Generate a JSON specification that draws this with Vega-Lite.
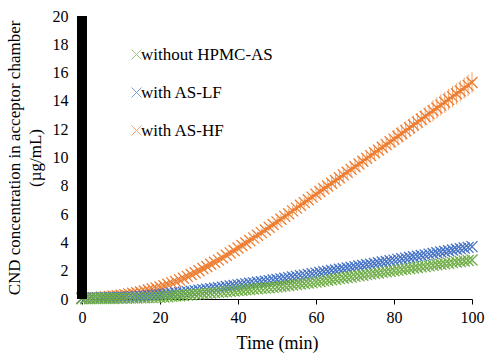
{
  "$schema": "https://vega.github.io/schema/vega-lite/v6.json",
  "width": 390,
  "height": 283,
  "autosize": "none",
  "padding": {"left": 82, "top": 16, "right": 17, "bottom": 55},
  "background": "white",
  "config": {
    "view": {"stroke": null},
    "font": "Liberation Serif",
    "axis": {"grid": false, "labelFont": "Liberation Serif", "titleFont": "Liberation Serif", "labelColor": "black", "titleColor": "black", "titleFontWeight": "normal"},
    "legend": {"labelFont": "Liberation Serif", "labelFontSize": 17, "labelColor": "black"}
  },
  "data": {"values": [
    {"t":0,"o":0.05,"oe":0.03,"b":0.06,"be":0.02,"g":0.02,"ge":0.01},
    {"t":1,"o":0.06,"oe":0.03,"b":0.07,"be":0.02,"g":0.02,"ge":0.01},
    {"t":2,"o":0.07,"oe":0.03,"b":0.07,"be":0.02,"g":0.02,"ge":0.01},
    {"t":3,"o":0.09,"oe":0.03,"b":0.08,"be":0.02,"g":0.03,"ge":0.01},
    {"t":4,"o":0.10,"oe":0.03,"b":0.08,"be":0.02,"g":0.03,"ge":0.01},
    {"t":5,"o":0.12,"oe":0.03,"b":0.09,"be":0.02,"g":0.03,"ge":0.01},
    {"t":6,"o":0.15,"oe":0.03,"b":0.09,"be":0.02,"g":0.03,"ge":0.01},
    {"t":7,"o":0.18,"oe":0.03,"b":0.10,"be":0.02,"g":0.04,"ge":0.01},
    {"t":8,"o":0.21,"oe":0.03,"b":0.10,"be":0.02,"g":0.04,"ge":0.01},
    {"t":9,"o":0.24,"oe":0.03,"b":0.11,"be":0.02,"g":0.05,"ge":0.01},
    {"t":10,"o":0.27,"oe":0.09,"b":0.12,"be":0.03,"g":0.05,"ge":0.02},
    {"t":11,"o":0.31,"oe":0.09,"b":0.13,"be":0.03,"g":0.06,"ge":0.02},
    {"t":12,"o":0.36,"oe":0.09,"b":0.15,"be":0.03,"g":0.06,"ge":0.02},
    {"t":13,"o":0.41,"oe":0.09,"b":0.16,"be":0.03,"g":0.07,"ge":0.02},
    {"t":14,"o":0.45,"oe":0.09,"b":0.18,"be":0.03,"g":0.07,"ge":0.02},
    {"t":15,"o":0.50,"oe":0.09,"b":0.20,"be":0.03,"g":0.08,"ge":0.02},
    {"t":16,"o":0.57,"oe":0.09,"b":0.22,"be":0.03,"g":0.09,"ge":0.02},
    {"t":17,"o":0.64,"oe":0.09,"b":0.24,"be":0.03,"g":0.10,"ge":0.02},
    {"t":18,"o":0.71,"oe":0.09,"b":0.26,"be":0.03,"g":0.10,"ge":0.02},
    {"t":19,"o":0.78,"oe":0.09,"b":0.28,"be":0.03,"g":0.11,"ge":0.02},
    {"t":20,"o":0.85,"oe":0.13,"b":0.30,"be":0.05,"g":0.12,"ge":0.04},
    {"t":21,"o":0.94,"oe":0.13,"b":0.33,"be":0.05,"g":0.14,"ge":0.04},
    {"t":22,"o":1.04,"oe":0.13,"b":0.36,"be":0.05,"g":0.16,"ge":0.04},
    {"t":23,"o":1.14,"oe":0.13,"b":0.39,"be":0.05,"g":0.19,"ge":0.04},
    {"t":24,"o":1.24,"oe":0.13,"b":0.42,"be":0.05,"g":0.21,"ge":0.04},
    {"t":25,"o":1.35,"oe":0.13,"b":0.45,"be":0.05,"g":0.23,"ge":0.04},
    {"t":26,"o":1.47,"oe":0.13,"b":0.48,"be":0.05,"g":0.25,"ge":0.04},
    {"t":27,"o":1.60,"oe":0.13,"b":0.52,"be":0.05,"g":0.28,"ge":0.04},
    {"t":28,"o":1.73,"oe":0.13,"b":0.55,"be":0.05,"g":0.30,"ge":0.04},
    {"t":29,"o":1.86,"oe":0.13,"b":0.59,"be":0.05,"g":0.33,"ge":0.04},
    {"t":30,"o":2.00,"oe":0.2,"b":0.62,"be":0.05,"g":0.35,"ge":0.05},
    {"t":31,"o":2.15,"oe":0.2,"b":0.66,"be":0.05,"g":0.37,"ge":0.05},
    {"t":32,"o":2.30,"oe":0.2,"b":0.69,"be":0.05,"g":0.40,"ge":0.05},
    {"t":33,"o":2.45,"oe":0.2,"b":0.73,"be":0.05,"g":0.42,"ge":0.05},
    {"t":34,"o":2.60,"oe":0.2,"b":0.76,"be":0.05,"g":0.45,"ge":0.05},
    {"t":35,"o":2.75,"oe":0.2,"b":0.80,"be":0.05,"g":0.47,"ge":0.05},
    {"t":36,"o":2.92,"oe":0.2,"b":0.84,"be":0.05,"g":0.50,"ge":0.05},
    {"t":37,"o":3.09,"oe":0.2,"b":0.88,"be":0.05,"g":0.52,"ge":0.05},
    {"t":38,"o":3.26,"oe":0.2,"b":0.92,"be":0.05,"g":0.55,"ge":0.05},
    {"t":39,"o":3.43,"oe":0.2,"b":0.96,"be":0.05,"g":0.57,"ge":0.05},
    {"t":40,"o":3.60,"oe":0.27,"b":1.00,"be":0.07,"g":0.60,"ge":0.08},
    {"t":41,"o":3.78,"oe":0.27,"b":1.04,"be":0.07,"g":0.62,"ge":0.08},
    {"t":42,"o":3.96,"oe":0.27,"b":1.07,"be":0.07,"g":0.65,"ge":0.08},
    {"t":43,"o":4.14,"oe":0.27,"b":1.11,"be":0.07,"g":0.67,"ge":0.08},
    {"t":44,"o":4.32,"oe":0.27,"b":1.14,"be":0.07,"g":0.70,"ge":0.08},
    {"t":45,"o":4.50,"oe":0.27,"b":1.18,"be":0.07,"g":0.72,"ge":0.08},
    {"t":46,"o":4.69,"oe":0.27,"b":1.22,"be":0.07,"g":0.75,"ge":0.08},
    {"t":47,"o":4.88,"oe":0.27,"b":1.26,"be":0.07,"g":0.77,"ge":0.08},
    {"t":48,"o":5.07,"oe":0.27,"b":1.30,"be":0.07,"g":0.80,"ge":0.08},
    {"t":49,"o":5.26,"oe":0.27,"b":1.34,"be":0.07,"g":0.82,"ge":0.08},
    {"t":50,"o":5.45,"oe":0.35,"b":1.38,"be":0.08,"g":0.85,"ge":0.1},
    {"t":51,"o":5.64,"oe":0.35,"b":1.42,"be":0.08,"g":0.88,"ge":0.1},
    {"t":52,"o":5.84,"oe":0.35,"b":1.47,"be":0.08,"g":0.92,"ge":0.1},
    {"t":53,"o":6.03,"oe":0.35,"b":1.51,"be":0.08,"g":0.95,"ge":0.1},
    {"t":54,"o":6.23,"oe":0.35,"b":1.56,"be":0.08,"g":0.99,"ge":0.1},
    {"t":55,"o":6.42,"oe":0.35,"b":1.60,"be":0.08,"g":1.02,"ge":0.1},
    {"t":56,"o":6.62,"oe":0.35,"b":1.65,"be":0.08,"g":1.06,"ge":0.1},
    {"t":57,"o":6.81,"oe":0.35,"b":1.69,"be":0.08,"g":1.09,"ge":0.1},
    {"t":58,"o":7.01,"oe":0.35,"b":1.74,"be":0.08,"g":1.13,"ge":0.1},
    {"t":59,"o":7.20,"oe":0.35,"b":1.78,"be":0.08,"g":1.16,"ge":0.1},
    {"t":60,"o":7.40,"oe":0.44,"b":1.83,"be":0.1,"g":1.20,"ge":0.13},
    {"t":61,"o":7.60,"oe":0.44,"b":1.87,"be":0.1,"g":1.24,"ge":0.13},
    {"t":62,"o":7.79,"oe":0.44,"b":1.92,"be":0.1,"g":1.28,"ge":0.13},
    {"t":63,"o":7.99,"oe":0.44,"b":1.96,"be":0.1,"g":1.32,"ge":0.13},
    {"t":64,"o":8.18,"oe":0.44,"b":2.01,"be":0.1,"g":1.36,"ge":0.13},
    {"t":65,"o":8.38,"oe":0.44,"b":2.05,"be":0.1,"g":1.40,"ge":0.13},
    {"t":66,"o":8.57,"oe":0.44,"b":2.10,"be":0.1,"g":1.44,"ge":0.13},
    {"t":67,"o":8.77,"oe":0.44,"b":2.14,"be":0.1,"g":1.48,"ge":0.13},
    {"t":68,"o":8.96,"oe":0.44,"b":2.19,"be":0.1,"g":1.52,"ge":0.13},
    {"t":69,"o":9.16,"oe":0.44,"b":2.23,"be":0.1,"g":1.56,"ge":0.13},
    {"t":70,"o":9.35,"oe":0.54,"b":2.28,"be":0.1,"g":1.60,"ge":0.16},
    {"t":71,"o":9.55,"oe":0.54,"b":2.33,"be":0.1,"g":1.64,"ge":0.16},
    {"t":72,"o":9.74,"oe":0.54,"b":2.37,"be":0.1,"g":1.68,"ge":0.16},
    {"t":73,"o":9.94,"oe":0.54,"b":2.42,"be":0.1,"g":1.72,"ge":0.16},
    {"t":74,"o":10.13,"oe":0.54,"b":2.46,"be":0.1,"g":1.76,"ge":0.16},
    {"t":75,"o":10.33,"oe":0.54,"b":2.51,"be":0.1,"g":1.80,"ge":0.16},
    {"t":76,"o":10.52,"oe":0.54,"b":2.56,"be":0.1,"g":1.84,"ge":0.16},
    {"t":77,"o":10.72,"oe":0.54,"b":2.61,"be":0.1,"g":1.88,"ge":0.16},
    {"t":78,"o":10.91,"oe":0.54,"b":2.65,"be":0.1,"g":1.92,"ge":0.16},
    {"t":79,"o":11.11,"oe":0.54,"b":2.70,"be":0.1,"g":1.96,"ge":0.16},
    {"t":80,"o":11.30,"oe":0.65,"b":2.75,"be":0.12,"g":2.00,"ge":0.2},
    {"t":81,"o":11.50,"oe":0.65,"b":2.80,"be":0.12,"g":2.04,"ge":0.2},
    {"t":82,"o":11.70,"oe":0.65,"b":2.84,"be":0.12,"g":2.08,"ge":0.2},
    {"t":83,"o":11.90,"oe":0.65,"b":2.89,"be":0.12,"g":2.11,"ge":0.2},
    {"t":84,"o":12.10,"oe":0.65,"b":2.93,"be":0.12,"g":2.15,"ge":0.2},
    {"t":85,"o":12.30,"oe":0.65,"b":2.98,"be":0.12,"g":2.19,"ge":0.2},
    {"t":86,"o":12.50,"oe":0.65,"b":3.03,"be":0.12,"g":2.23,"ge":0.2},
    {"t":87,"o":12.70,"oe":0.65,"b":3.08,"be":0.12,"g":2.27,"ge":0.2},
    {"t":88,"o":12.90,"oe":0.65,"b":3.12,"be":0.12,"g":2.30,"ge":0.2},
    {"t":89,"o":13.10,"oe":0.65,"b":3.17,"be":0.12,"g":2.34,"ge":0.2},
    {"t":90,"o":13.30,"oe":0.75,"b":3.22,"be":0.13,"g":2.38,"ge":0.22},
    {"t":91,"o":13.50,"oe":0.75,"b":3.27,"be":0.13,"g":2.42,"ge":0.22},
    {"t":92,"o":13.70,"oe":0.75,"b":3.32,"be":0.13,"g":2.46,"ge":0.22},
    {"t":93,"o":13.90,"oe":0.75,"b":3.36,"be":0.13,"g":2.49,"ge":0.22},
    {"t":94,"o":14.10,"oe":0.75,"b":3.41,"be":0.13,"g":2.53,"ge":0.22},
    {"t":95,"o":14.30,"oe":0.75,"b":3.46,"be":0.13,"g":2.57,"ge":0.22},
    {"t":96,"o":14.50,"oe":0.75,"b":3.51,"be":0.13,"g":2.61,"ge":0.22},
    {"t":97,"o":14.70,"oe":0.75,"b":3.56,"be":0.13,"g":2.65,"ge":0.22},
    {"t":98,"o":14.90,"oe":0.75,"b":3.60,"be":0.13,"g":2.68,"ge":0.22},
    {"t":99,"o":15.10,"oe":0.75,"b":3.65,"be":0.13,"g":2.72,"ge":0.22},
    {"t":100,"o":15.30,"oe":0.75,"b":3.70,"be":0.13,"g":2.76,"ge":0.22}
  ]},
  "encoding": {
    "x": {"field": "t", "type": "quantitative", "title": "Time (min)", "scale": {"domain": [0, 100], "nice": false},
      "axis": {"grid": false, "values": [0, 20, 40, 60, 80, 100], "domainColor": "black", "tickColor": "black", "tickSize": 5, "labelPadding": 5, "labelFont": "Liberation Serif", "labelFontSize": 16, "labelColor": "black", "labelFlush": false, "titleFont": "Liberation Serif", "titleFontSize": 18, "titleFontWeight": "normal", "titleColor": "black", "titlePadding": 9}},
    "y": {"type": "quantitative", "title": ["CND concentration in acceptor chamber", "(µg/mL)"], "scale": {"domain": [0, 20], "nice": false},
      "axis": {"grid": false, "domain": false, "ticks": false, "values": [0, 2, 4, 6, 8, 10, 12, 14, 16, 18, 20], "labelOverlap": false, "labelPadding": 14, "labelFont": "Liberation Serif", "labelFontSize": 16, "labelColor": "black", "titleFont": "Liberation Serif", "titleFontSize": 17, "titleFontWeight": "normal", "titleColor": "black", "titlePadding": 8, "titleLineHeight": 21}},
    "color": {"type": "nominal", "scale": {"domain": ["without HPMC-AS", "with AS-LF", "with AS-HF"], "range": ["#70AD47", "#4472C4", "#ED7D31"]},
      "legend": {"orient": "none", "legendX": 46, "legendY": 30, "symbolType": "M-1,-1L1,1M1,-1L-1,1", "symbolSize": 100, "symbolStrokeWidth": 1, "symbolFillColor": "transparent", "rowPadding": 20, "labelOffset": -4, "title": null,
        "encode": {"symbols": {"update": {"stroke": {"scale": "color", "field": "value"}, "opacity": {"value": 1}, "strokeWidth": {"value": 1}}}}}}
  },
  "layer": [
    {"mark": {"type": "tick", "orient": "vertical", "thickness": 1},
     "encoding": {"y": {"field": "o"}, "size": {"field": "oe", "type": "quantitative", "scale": {"type": "linear", "domain": [0, 1], "range": [0, 28.3]}, "legend": null}, "color": {"datum": "with AS-HF"}}},
    {"mark": {"type": "point", "shape": "M-1,-1L1,1M1,-1L-1,1", "filled": false, "size": 121, "strokeWidth": 1.3, "opacity": 1},
     "encoding": {"y": {"field": "o"}, "color": {"datum": "with AS-HF"}}},
    {"mark": {"type": "tick", "orient": "vertical", "thickness": 1},
     "encoding": {"y": {"field": "b"}, "size": {"field": "be", "type": "quantitative", "scale": {"type": "linear", "domain": [0, 1], "range": [0, 28.3]}, "legend": null}, "color": {"datum": "with AS-LF"}}},
    {"mark": {"type": "point", "shape": "M-1,-1L1,1M1,-1L-1,1", "filled": false, "size": 121, "strokeWidth": 1.3, "opacity": 1},
     "encoding": {"y": {"field": "b"}, "color": {"datum": "with AS-LF"}}},
    {"mark": {"type": "tick", "orient": "vertical", "thickness": 1},
     "encoding": {"y": {"field": "g"}, "size": {"field": "ge", "type": "quantitative", "scale": {"type": "linear", "domain": [0, 1], "range": [0, 28.3]}, "legend": null}, "color": {"datum": "without HPMC-AS"}}},
    {"mark": {"type": "point", "shape": "M-1,-1L1,1M1,-1L-1,1", "filled": false, "size": 121, "strokeWidth": 1.3, "opacity": 1},
     "encoding": {"y": {"field": "g"}, "color": {"datum": "without HPMC-AS"}}},
    {"data": {"values": [{"t": 0, "lo": 0, "hi": 20}]},
     "mark": {"type": "rule", "color": "black", "strokeWidth": 10},
     "encoding": {"y": {"field": "lo"}, "y2": {"field": "hi"}, "color": {"value": "black"}}}
  ]
}
